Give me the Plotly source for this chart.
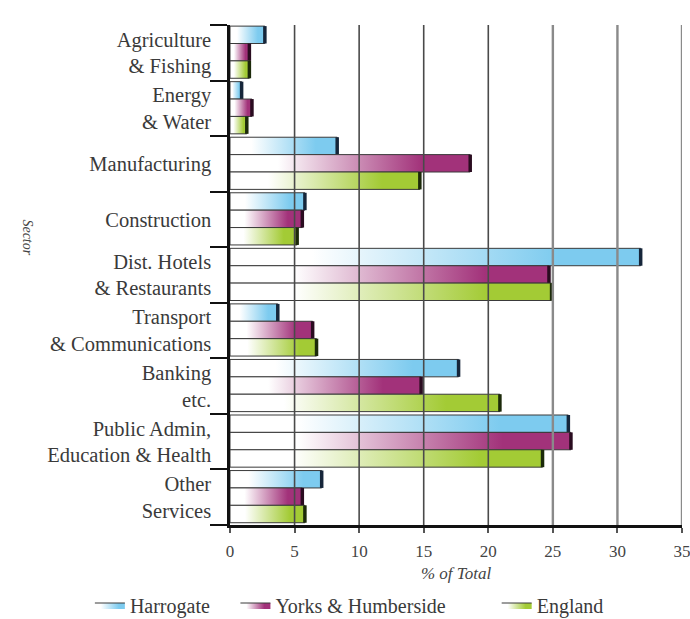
import plotly.graph_objects as go

# Employment by sector, % of total
sectors = [
    "Agriculture<br>& Fishing",
    "Energy<br>& Water",
    "Manufacturing",
    "Construction",
    "Dist. Hotels<br>& Restaurants",
    "Transport<br>& Communications",
    "Banking<br>etc.",
    "Public Admin,<br>Education & Health",
    "Other<br>Services",
]
harrogate = [2.7, 0.9, 8.3, 5.8, 31.8, 3.7, 17.7, 26.2, 7.1]
yorks_humberside = [1.5, 1.7, 18.6, 5.6, 24.7, 6.4, 14.8, 26.4, 5.6]
england = [1.5, 1.3, 14.7, 5.2, 24.9, 6.7, 20.9, 24.2, 5.8]
x_ticks = [0, 5, 10, 15, 20, 25, 30, 35]

series = [
    ("Harrogate", harrogate, "#7dcbef", "#16263a", "legend", -0.31),
    ("Yorks & Humberside", yorks_humberside, "#a2327a", "#2a0c20", "legend2", 0.012),
    ("England", england, "#a3cb35", "#1c2a0a", "legend3", 0.59),
]

BAR_H = 0.313
TOP0 = -0.48
SERIF = "Liberation Serif"
TEXT = "#3a3a3a"

fig = go.Figure()

for s_idx, (name, vals, col, cap, leg, _) in enumerate(series):
    scale = [[0, "#ffffff"], [0.2, "#ffffff"], [0.8, col], [1, col]]
    cap_x, cap_y = [], []
    for i, v in enumerate(vals):
        top = i + TOP0 + s_idx * BAR_H
        bot = top + BAR_H
        fig.add_trace(go.Scatter(
            x=[0, v, v, 0, 0], y=[top, top, bot, bot, top],
            mode="lines", fill="toself",
            fillgradient=dict(type="horizontal", colorscale=scale),
            line=dict(color="#3a3a3a", width=1),
            name=name, legendgroup=name, legend=leg, showlegend=(i == 0),
            hovertemplate=f"{name}<br>%{{x}}%<extra></extra>",
        ))
        cap_x += [v, v, None]
        cap_y += [top, bot, None]
    # dark end cap at the tip of each bar
    fig.add_trace(go.Scatter(
        x=cap_x, y=cap_y, mode="lines",
        line=dict(color=cap, width=3.5),
        legendgroup=name, legend=leg, showlegend=False, hoverinfo="skip",
    ))

# vertical grid lines drawn over the bars
for t in x_ticks[1:]:
    light = t >= 25
    fig.add_shape(type="line", xref="x", yref="paper", x0=t, x1=t, y0=0, y1=1,
                  line=dict(color="#8a8a8a" if light else "#4a4a4a",
                            width=2.4 if light else 1.6),
                  layer="above")

legend_style = dict(orientation="h", xanchor="left", y=-0.16, yanchor="middle",
                    font=dict(family=SERIF, size=20, color=TEXT), itemwidth=30,
                    bgcolor="rgba(0,0,0,0)")
legends = {leg: dict(legend_style, x=lx) for (_, _, _, _, leg, lx) in series}

fig.update_layout(
    width=690, height=619,
    margin=dict(l=230, r=8, t=25, b=94, autoexpand=False),
    paper_bgcolor="white", plot_bgcolor="white",
    font=dict(family=SERIF, color=TEXT),
    showlegend=True,
    xaxis=dict(
        range=[0, 35], tickvals=x_ticks, showgrid=False, zeroline=False,
        showline=True, linecolor="#111111", linewidth=2.5,
        ticks="outside", ticklen=5, tickcolor="#555555", tickwidth=1.5,
        ticklabeloverflow="allow", ticklabelstandoff=4, automargin=False,
        tickfont=dict(family=SERIF, size=17, color="#444444"),
        title=dict(text="% of Total", standoff=7,
                   font=dict(family=SERIF, size=17, color="#444444", style="italic")),
    ),
    yaxis=dict(
        range=[8.5, -0.5], tickvals=list(range(len(sectors))), ticktext=sectors,
        showgrid=False, zeroline=False, automargin=False,
        showline=True, linecolor="#111111", linewidth=2.5,
        ticks="", ticklabelstandoff=12,
        tickfont=dict(family=SERIF, size=20.5, color=TEXT),
        minor=dict(tickvals=[i - 0.5 for i in range(len(sectors) + 1)],
                   ticks="outside", ticklen=17, tickcolor="#111111", tickwidth=2),
    ),
    annotations=[dict(
        text="Sector", textangle=90, xref="paper", yref="paper",
        x=-0.47, y=0.575, showarrow=False,
        font=dict(family=SERIF, size=14, color="#444444", style="italic"),
    )],
    **legends,
)

fig.write_html("out.html")
